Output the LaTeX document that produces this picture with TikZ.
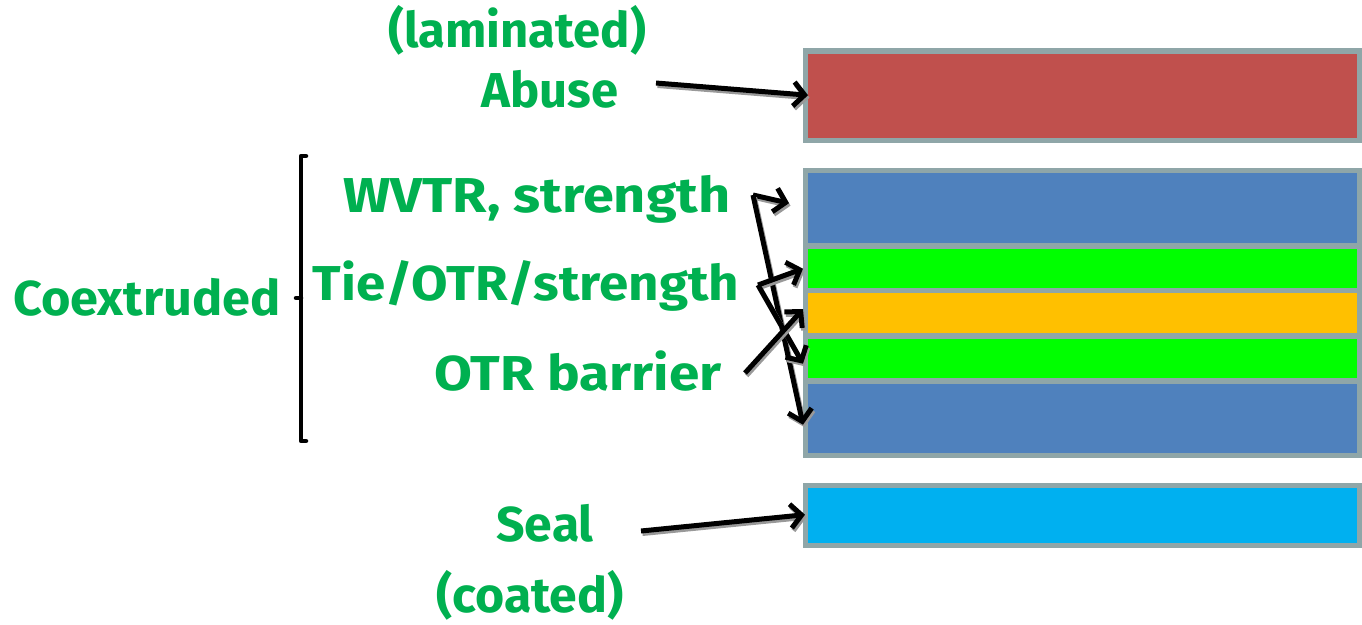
\documentclass[tikz,border=0pt]{standalone}
\usepackage{fontspec}
\setmainfont{Fira Sans}
\usetikzlibrary{arrows.meta}
\definecolor{txtgreen}{RGB}{0,176,80}
\definecolor{edgegray}{RGB}{143,166,168}
\definecolor{redlay}{RGB}{192,80,77}
\definecolor{bluelay}{RGB}{79,129,189}
\definecolor{greenlay}{RGB}{0,255,0}
\definecolor{orangelay}{RGB}{255,192,0}
\definecolor{seallay}{RGB}{0,176,240}
\newcommand{\wsc}[2]{\scalebox{#1}[1]{#2}}
\tikzset{
  lbl/.style={text=txtgreen, font=\fontsize{49}{54}\selectfont\bfseries, anchor=base, inner sep=0pt},
  outerbox/.style={fill=edgegray, draw=none, anchor=north west, inner sep=0pt, minimum width=559pt},
  layer/.style={draw=none, anchor=north west, inner sep=0pt, minimum width=549pt},
  arr/.style={line width=5pt, -{Straight Barb[length=11pt,width=24pt,line width=5pt]},
    preaction={draw=black!40, line width=5pt, transform canvas={shift={(1.5pt,-2.5pt)}}, -{Straight Barb[length=11pt,width=24pt,line width=5pt]}}},
  brk/.style={line width=4.5pt, line cap=round, line join=round}
}
\begin{document}
\begin{tikzpicture}[x=1pt,y=-1pt]
\useasboundingbox (0,0) rectangle (1362,624);
% layers
\node[outerbox, minimum height=95pt] (redout) at (803,48) {};
\node[layer, fill=redlay, minimum height=84pt] (red) at (808,54) {};
\node[outerbox, minimum height=290pt] (coex) at (803,168) {};
\node[layer, fill=bluelay, minimum height=70pt] (blue1) at (808,173) {};
\node[layer, fill=greenlay, minimum height=39pt] (green1) at (808,249) {};
\node[layer, fill=orangelay, minimum height=40pt] (orange) at (808,293) {};
\node[layer, fill=greenlay, minimum height=39pt] (green2) at (808,339) {};
\node[layer, fill=bluelay, minimum height=69pt] (blue2) at (808,384) {};
\node[outerbox, minimum height=65pt] (sealout) at (803,483) {};
\node[layer, fill=seallay, minimum height=55pt] (seal) at (808,488) {};
% labels
\node[lbl] (lam) at (517,47) {\wsc{1.0}{(laminated)}};
\node[lbl] (abuse) at (550,107) {\wsc{1.0}{Abuse}};
\node[lbl] (wvtr) at (537,212) {\wsc{1.14}{WVTR, strength}};
\node[lbl] (tie) at (526,300) {\wsc{1.08}{Tie/OTR/strength}};
\node[lbl] (coextr) at (147,315) {\wsc{1.03}{Coextruded}};
\node[lbl] (otr) at (578,390) {\wsc{1.12}{OTR barrier}};
\node[lbl] (seallbl) at (545,541) {\wsc{1.02}{Seal}};
\node[lbl] (coated) at (530,612) {\wsc{1.02}{(coated)}};
% bracket
\draw[brk] (306,156) -- (301,156) -- (301,441) -- (306,441);
\draw[brk] (296,298) -- (301,298);
% arrow start points
\coordinate (sAbuse) at (656,83);
\coordinate (sSeal) at (641,531);
\coordinate (sWv) at (753,195);
\coordinate (sTie) at (758,285);
\coordinate (sOtr) at (745,373);
\draw[arr] (sAbuse) -- ([yshift=1pt]red.west);
\draw[arr] (sSeal) -- ([yshift=1pt,xshift=-3pt]seal.west);
\draw[arr] (sWv) -- ([xshift=-19pt,yshift=5pt]blue1.west);
\draw[arr] (sWv) -- ([xshift=-5pt,yshift=-6pt]blue2.west);
\draw[arr] (sTie) -- ([xshift=-5pt]green1.west);
\draw[arr] (sTie) -- ([xshift=-5pt,yshift=-5pt]green2.west);
\draw[arr] (sOtr) -- ([xshift=-5pt,yshift=4pt]orange.west);
\end{tikzpicture}
\end{document}
